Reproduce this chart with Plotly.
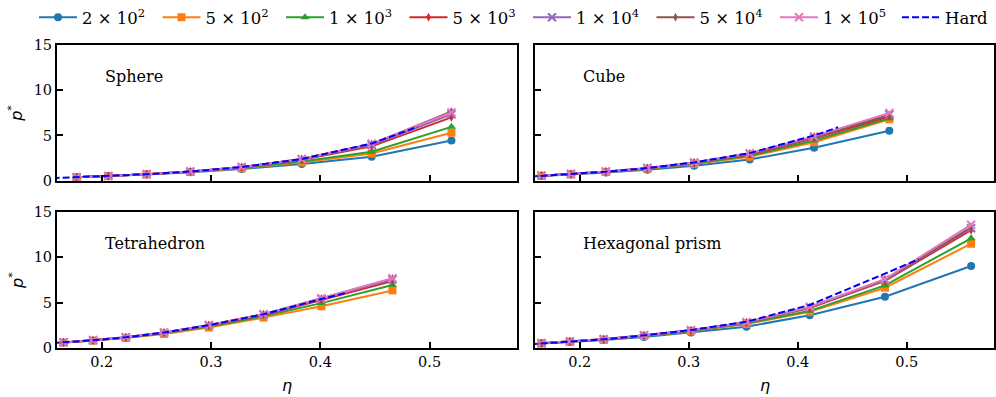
import plotly.graph_objects as go

# ---------------- data ----------------
series_names = ["2 × 10<sup>2</sup>", "5 × 10<sup>2</sup>", "1 × 10<sup>3</sup>",
                "5 × 10<sup>3</sup>", "1 × 10<sup>4</sup>", "5 × 10<sup>4</sup>",
                "1 × 10<sup>5</sup>"]
hard_name = "Hard"

# Sphere
sphere_eta = [0.177, 0.206, 0.241, 0.281, 0.328, 0.383, 0.447, 0.520]
sphere_p = [
    [0.37, 0.50, 0.68, 0.93, 1.30, 1.85, 2.65, 4.45],
    [0.38, 0.51, 0.70, 0.96, 1.38, 2.02, 3.00, 5.30],
    [0.38, 0.51, 0.70, 0.98, 1.42, 2.12, 3.20, 5.95],
    [0.38, 0.51, 0.71, 1.00, 1.48, 2.32, 3.80, 7.00],
    [0.38, 0.51, 0.71, 1.01, 1.50, 2.37, 3.95, 7.35],
    [0.38, 0.51, 0.71, 1.01, 1.51, 2.40, 4.05, 7.65],
    [0.38, 0.51, 0.71, 1.01, 1.51, 2.40, 4.10, 7.55],
]
sphere_hard_eta = [0.155, 0.177, 0.206, 0.241, 0.281, 0.328, 0.383, 0.447, 0.489]
sphere_hard_p = [0.29, 0.38, 0.51, 0.71, 1.01, 1.51, 2.40, 4.12, 5.95]

# Cube
cube_eta = [0.165, 0.192, 0.224, 0.262, 0.305, 0.356, 0.415, 0.484]
cube_p = [
    [0.52, 0.68, 0.90, 1.22, 1.65, 2.35, 3.65, 5.52],
    [0.55, 0.72, 0.96, 1.32, 1.85, 2.65, 4.25, 6.80],
    [0.55, 0.73, 0.98, 1.35, 1.90, 2.75, 4.45, 6.90],
    [0.56, 0.74, 1.00, 1.38, 1.97, 2.90, 4.70, 7.10],
    [0.56, 0.74, 1.00, 1.39, 1.99, 2.97, 4.80, 7.30],
    [0.56, 0.74, 1.00, 1.39, 2.00, 3.00, 4.85, 7.20],
    [0.56, 0.75, 1.01, 1.40, 2.01, 3.03, 4.90, 7.50],
]
cube_hard_eta = [0.155, 0.192, 0.224, 0.262, 0.305, 0.356, 0.415, 0.437]
cube_hard_p = [0.46, 0.73, 1.00, 1.40, 2.02, 3.05, 5.00, 5.90]

# Tetrahedron (no 2 x 10^2 series)
tetra_eta = [0.165, 0.192, 0.222, 0.257, 0.298, 0.348, 0.401, 0.466]
tetra_p = [
    None,
    [0.60, 0.80, 1.10, 1.55, 2.25, 3.35, 4.60, 6.35],
    [0.61, 0.82, 1.14, 1.62, 2.38, 3.50, 4.95, 6.95],
    [0.62, 0.84, 1.17, 1.68, 2.48, 3.65, 5.30, 7.40],
    [0.62, 0.85, 1.18, 1.70, 2.50, 3.70, 5.40, 7.55],
    [0.62, 0.85, 1.18, 1.70, 2.52, 3.72, 5.45, 7.65],
    [0.62, 0.85, 1.19, 1.71, 2.53, 3.74, 5.48, 7.70],
]
tetra_hard_eta = [0.155, 0.192, 0.222, 0.257, 0.298, 0.348, 0.401, 0.424]
tetra_hard_p = [0.55, 0.85, 1.18, 1.70, 2.52, 3.72, 5.40, 6.10]

# Hexagonal prism
hex_eta = [0.165, 0.191, 0.222, 0.259, 0.302, 0.353, 0.411, 0.480, 0.559]
hex_p = [
    [0.50, 0.66, 0.88, 1.22, 1.70, 2.35, 3.62, 5.66, 9.05],
    [0.52, 0.70, 0.93, 1.32, 1.85, 2.65, 4.00, 6.65, 11.5],
    [0.52, 0.71, 0.94, 1.34, 1.88, 2.70, 4.10, 6.90, 12.1],
    [0.53, 0.72, 0.96, 1.38, 1.93, 2.80, 4.40, 7.40, 13.0],
    [0.53, 0.72, 0.97, 1.39, 1.95, 2.82, 4.45, 7.50, 13.2],
    [0.53, 0.72, 0.97, 1.40, 1.96, 2.84, 4.50, 7.55, 13.3],
    [0.54, 0.73, 0.98, 1.41, 1.97, 2.85, 4.55, 7.60, 13.6],
]
hex_hard_eta = [0.155, 0.191, 0.222, 0.259, 0.302, 0.353, 0.411, 0.480, 0.511]
hex_hard_p = [0.42, 0.70, 0.96, 1.40, 1.97, 2.90, 4.75, 8.20, 9.80]

panel_titles = ["Sphere", "Cube", "Tetrahedron", "Hexagonal prism"]
x_ticks = [0.2, 0.3, 0.4, 0.5]
y_ticks = [0, 5, 10, 15]

# ---------------- styles ----------------
colors = ["#1f77b4", "#ff7f0e", "#2ca02c", "#d62728", "#9467bd", "#8c564b", "#e377c2"]
symbols = ["circle", "square", "triangle-up", "diamond-tall", "x-thin", "diamond-tall", "x-thin"]
hard_color = "#0000ff"
SERIF = "DejaVu Serif"
SANS = "DejaVu Sans"

W, H = 996, 397
# panel pixel boxes: (left, right, top, bottom)
boxes = [(57, 517, 45, 180.7), (535, 994, 45, 180.7),
         (57, 517, 212, 348), (535, 994, 212, 348)]

panels = [
    (sphere_eta, sphere_p, sphere_hard_eta, sphere_hard_p),
    (cube_eta, cube_p, cube_hard_eta, cube_hard_p),
    (tetra_eta, tetra_p, tetra_hard_eta, tetra_hard_p),
    (hex_eta, hex_p, hex_hard_eta, hex_hard_p),
]

fig = go.Figure()
for k, (eta, ps, heta, hp) in enumerate(panels):
    xa = "x" if k == 0 else f"x{k+1}"
    ya = "y" if k == 0 else f"y{k+1}"
    for i, vals in enumerate(ps):
        if vals is None:
            continue
        sym = symbols[i]
        if sym == "x-thin":
            mline = dict(color=colors[i], width=2)
            msize = 8
        elif sym == "diamond-tall":
            mline = dict(width=0)
            msize = 6.5
        else:
            mline = dict(width=0)
            msize = 8
        fig.add_trace(go.Scatter(
            x=eta, y=vals, mode="lines+markers", name=series_names[i],
            legendgroup=series_names[i], showlegend=(k == 0), legend="legend",
            line=dict(color=colors[i], width=2),
            marker=dict(symbol=sym, size=msize, color=colors[i], line=mline),
            xaxis=xa, yaxis=ya, cliponaxis=True))
    fig.add_trace(go.Scatter(
        x=heta, y=hp, mode="lines", name=hard_name, legendgroup=hard_name,
        showlegend=(k == 0), legend="legend2",
        line=dict(color=hard_color, width=2, dash="7px,3px"),
        xaxis=xa, yaxis=ya))

legend_common = dict(orientation="h", xanchor="left", y=1.0, yanchor="top",
                     font=dict(family=SERIF, size=16.5, color="black"),
                     itemwidth=38, bgcolor="rgba(0,0,0,0)", tracegroupgap=0)
layout = dict(
    width=W, height=H, margin=dict(l=0, r=0, t=0, b=0, autoexpand=False),
    paper_bgcolor="white", plot_bgcolor="white",
    font=dict(family=SERIF, size=14, color="black"),
    showlegend=True,
    legend=dict(x=34 / W, entrywidth=70.5, entrywidthmode="pixels", **legend_common),
    legend2=dict(x=897 / W, **legend_common),
)
annotations = []
for k, (l, r, t, b) in enumerate(boxes):
    sfx = "" if k == 0 else str(k + 1)
    xdom = [l / W, r / W]
    ydom = [1 - b / H, 1 - t / H]
    layout["xaxis" + sfx] = dict(
        domain=xdom, anchor="y" + sfx, range=[0.159, 0.58], automargin=False,
        tickvals=x_ticks, tickformat=".1f", ticks="inside", ticklen=6, tickwidth=1.5,
        tickcolor="black", showline=True, linecolor="black", linewidth=2, mirror=True,
        showgrid=False, zeroline=False, showticklabels=(k >= 2),
        tickfont=dict(family=SERIF, size=14.5))
    layout["yaxis" + sfx] = dict(
        domain=ydom, anchor="x" + sfx, range=[0, 15], automargin=False,
        tickvals=y_ticks, ticks="inside", ticklen=6, tickwidth=1.5,
        tickcolor="black", showline=True, linecolor="black", linewidth=2, mirror=True,
        showgrid=False, zeroline=False, showticklabels=(k % 2 == 0),
        tickfont=dict(family=SERIF, size=14.5))
    annotations.append(dict(
        text=panel_titles[k], xref=f"x{sfx} domain", yref=f"y{sfx} domain",
        x=0.1, y=0.77, xanchor="left", yanchor="middle", showarrow=False,
        font=dict(family=SERIF, size=16, color="black")))
    if k % 2 == 0:
        annotations.append(dict(
            text="<i>p</i><sup>*</sup>", xref="paper", yref="paper",
            x=16 / W, y=1 - (t + b) / 2 / H, textangle=-90, showarrow=False,
            xanchor="center", yanchor="middle",
            font=dict(family=SANS, size=16, color="black")))
    if k >= 2:
        annotations.append(dict(
            text="<i>η</i>", xref="paper", yref="paper",
            x=(l + r) / 2 / W, y=1 - 385 / H, showarrow=False,
            xanchor="center", yanchor="middle",
            font=dict(family=SANS, size=16, color="black")))
layout["annotations"] = annotations
fig.update_layout(**layout)
fig.write_html("out.html", config={"displayModeBar": False},
               post_script="document.body.style.margin='0';"
                           "document.body.style.overflow='hidden';")
